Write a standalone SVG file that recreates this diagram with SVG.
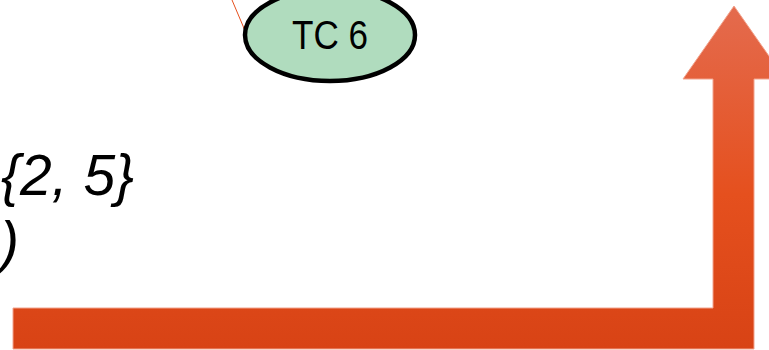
<svg xmlns="http://www.w3.org/2000/svg" width="769" height="350" viewBox="0 0 769 350">
  <style>
    .math { font-family: "Liberation Sans", Arial, sans-serif; font-style: italic; font-size: 57px; fill: #000; }
    .label { font-family: "Liberation Sans", Arial, sans-serif; font-size: 40px; fill: #000; }
  </style>
  <defs>
    <linearGradient id="arrowFill" x1="0" y1="0" x2="0" y2="1">
      <stop offset="0" stop-color="#E46B4E"/>
      <stop offset="0.55" stop-color="#E5501E"/>
      <stop offset="1" stop-color="#D84315"/>
    </linearGradient>
  </defs>
  <rect width="769" height="350" fill="#ffffff"/>

  <!-- bent flow arrow -->
  <g id="flow-arrow">
    <path d="M13,308 L713,308 L713,79 L683,79 L734,6 L785,79 L754,79 L754,349 L13,349 Z" fill="url(#arrowFill)" stroke="#F2A48E" stroke-width="1"/>
  </g>

  <!-- connectors -->
  <g id="connectors">
    <line x1="232" y1="0" x2="246" y2="33" stroke="#E5501E" stroke-width="1"/>
  </g>

  <!-- node TC 6 -->
  <g id="tc6">
    <ellipse cx="330" cy="35" rx="85" ry="46" fill="#B0DCBE" stroke="#000" stroke-width="4.5"/>
    <text class="label" x="330" y="49" text-anchor="middle" textLength="76" lengthAdjust="spacingAndGlyphs">TC 6</text>
  </g>

  <!-- set notation -->
  <g id="set-text">
    <text class="math" x="1" y="195">{2, 5}</text>
    <text class="math" x="19" y="262" text-anchor="end">)</text>
  </g>
</svg>
